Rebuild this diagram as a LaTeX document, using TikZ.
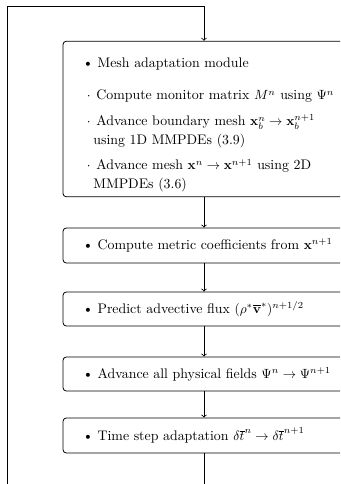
\documentclass[tikz,border=0pt]{standalone}
\usepackage{amsmath}
\usetikzlibrary{calc}
% list marks used inside the stage boxes
\newcommand{\stagebullet}{\hspace*{-1pt}\textbullet\hspace{3.1pt}}
\newcommand{\stagedot}{\hspace*{2.2pt}$\cdot$\hspace{4.3pt}}
\newcommand{\stagecont}{\hspace*{7pt}}
\begin{document}
\begin{tikzpicture}[x=0.75pt,y=-0.75pt,
  stagebox/.style={draw, rounded corners=2.5pt, line width=0.6pt,
    minimum width=282*0.75pt, text width=240*0.75pt, inner xsep=21*0.75pt,
    align=left, font=\fontsize{10.4}{14.25}\selectfont},
  flow/.style={line width=0.6pt, ->, >=to}]
\clip (0,0) rectangle (340,484);
\useasboundingbox (0,0) rectangle (340,484);

\node[stagebox, minimum height=154*0.75pt] (mesh) at (204,119) {%
  \rule{0pt}{16.5pt}\mbox{\stagebullet Mesh adaptation module}\\[10pt]
  \mbox{\stagedot Compute monitor matrix $M^n$ using $\Psi^n$}\\[5.2pt]
  \mbox{\stagedot Advance boundary mesh $\mathbf{x}_b^n\rightarrow\mathbf{x}_b^{n+1}$}\\
  \mbox{\stagecont using 1D MMPDEs (3.9)}\\[4.5pt]
  \mbox{\stagedot Advance mesh $\mathbf{x}^n\rightarrow\mathbf{x}^{n+1}$ using 2D}\\
  \mbox{\stagecont MMPDEs (3.6)}};

\node[stagebox, minimum height=35*0.75pt] (metric) at (204,245.5)
  {\mbox{\stagebullet Compute metric coefficients from $\mathbf{x}^{n+1}$}};
\node[stagebox, minimum height=34*0.75pt] (flux) at (204,309)
  {\mbox{\stagebullet Predict advective flux $(\rho^*\overline{\mathbf{v}}^*)^{n+1/2}$}};
\node[stagebox, minimum height=34*0.75pt] (fields) at (204,374)
  {\mbox{\stagebullet Advance all physical fields $\Psi^n\rightarrow\Psi^{n+1}$}};
\node[stagebox, minimum height=35*0.75pt] (dt) at (204,435.5)
  {\mbox{\stagebullet Time step adaptation $\delta\overline{t}^n\rightarrow\delta\overline{t}^{n+1}$}};

% return path of the time loop
\coordinate (loopbl) at (7,500);
\coordinate (looptl) at (7,6);

\draw[flow] (mesh) -- (metric);
\draw[flow] (metric) -- (flux);
\draw[flow] (flux) -- (fields);
\draw[flow] (fields) -- (dt);
\draw[flow] (dt.south) |- (loopbl) |- (looptl) -| (mesh.north);
\end{tikzpicture}
\end{document}
